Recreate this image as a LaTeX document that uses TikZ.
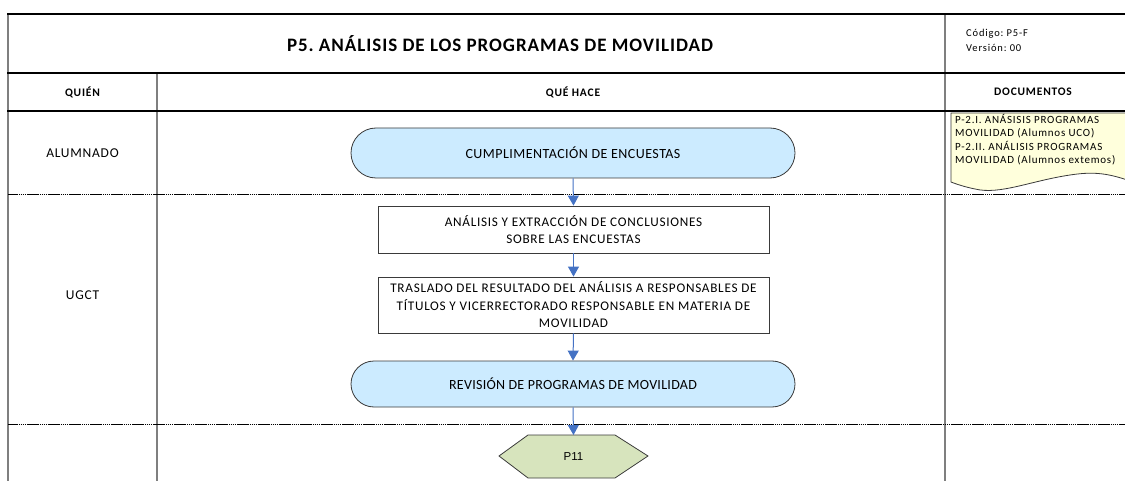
\documentclass[tikz,border=0pt]{standalone}
\usepackage{fontspec}
\setmainfont{Carlito}
\newfontfamily\arialf{Liberation Sans}
\usetikzlibrary{arrows.meta,shapes.geometric,shapes.misc}
\newcommand{\ls}[1]{\addfontfeatures{LetterSpace=#1}}
\frenchspacing
\definecolor{termfill}{HTML}{CCEBFF}
\definecolor{hexfill}{HTML}{D7E4BD}
\definecolor{docfill}{HTML}{FFFFDC}
\definecolor{arrowc}{HTML}{4472C4}
\definecolor{edgec}{HTML}{3A3A3A}
\definecolor{gridc}{HTML}{7F7F7F}
\tikzset{
  thickrule/.style={line width=2.6pt, black},
  dashrule/.style={line width=0.9pt, black, dash pattern=on 1.6pt off 0.5pt},
  vrule/.style={line width=1.1pt, gridc},
  term/.style={rounded rectangle, draw=edgec, line width=0.8pt, fill=termfill, minimum width=444pt, minimum height=50pt, inner sep=0pt},
  procbox/.style={rectangle, draw=edgec, line width=0.8pt, fill=white, minimum width=391pt, align=center, inner sep=0pt, font=\fontsize{13.2}{17.5}\selectfont\ls{5.5}},
  flowarrow/.style={draw=arrowc, line width=1pt, -{Triangle[width=11pt,length=10pt]}},
  lane/.style={font=\fontsize{13.5}{16}\selectfont\ls{5.5}},
  hdr/.style={font=\bfseries\fontsize{11.5}{14}\selectfont\ls{7}},
}
\begin{document}
\begin{tikzpicture}[x=1pt,y=-1pt]
\useasboundingbox (0,0) rectangle (1125,481);
\clip (0,0) rectangle (1125,481);
% grid
\draw[vrule] (8,14) -- (8,481);
\draw[vrule] (157,73) -- (157,481);
\draw[vrule] (945,14) -- (945,481);
\draw[thickrule] (7,14) -- (1130,14);
\draw[thickrule] (7,73) -- (1130,73);
\draw[thickrule] (7,111) -- (1130,111);
\draw[dashrule] (8,194) -- (1130,194);
\draw[dashrule] (8,424) -- (1130,424);
% title
\node[font=\bfseries\fontsize{19}{22}\selectfont\ls{5}] (title) at (500,44) {P5. ANÁLISIS DE LOS PROGRAMAS DE MOVILIDAD};
\node[anchor=north west, align=left, inner sep=0pt, font=\fontsize{10.5}{15}\selectfont\ls{8}] (code) at (966,29) {Código: P5-F\\Versión: 00};
% headers
\node[hdr] (h1) at (82.5,92) {QUIÉN};
\node[hdr] (h2) at (573,92) {QUÉ HACE};
\node[hdr] (h3) at (1033,92) {DOCUMENTOS};
% lanes
\node[lane] (l1) at (82.5,153) {ALUMNADO};
\node[lane] (l2) at (82.5,295) {UGCT};
% flow
\node[term, font=\fontsize{14}{17}\selectfont\ls{3.3}] (t1) at (573,153) {CUMPLIMENTACIÓN DE ENCUESTAS};
\node[procbox, minimum height=47pt] (b2) at (573.5,229.5) {ANÁLISIS Y EXTRACCIÓN DE CONCLUSIONES\\SOBRE LAS ENCUESTAS};
\node[procbox, minimum height=56pt] (b3) at (573.5,305) {TRASLADO DEL RESULTADO DEL ANÁLISIS A RESPONSABLES DE\\TÍTULOS Y VICERRECTORADO RESPONSABLE EN MATERIA DE\\MOVILIDAD};
\node[term, minimum height=46pt, font=\fontsize{14}{17}\selectfont\ls{2}] (t2) at (573,384) {REVISIÓN DE PROGRAMAS DE MOVILIDAD};
\draw[edgec, line width=0.8pt, fill=hexfill] (499,456) -- (528,435) -- (615,435) -- (648,456) -- (615,478) -- (528,478) -- cycle;
\coordinate (hx) at (573.5,435);
\node[font=\arialf\fontsize{11.5}{14}\selectfont] (p11) at (573.5,457) {P11};
\draw[flowarrow] (t1.south) -- (b2.north);
\draw[flowarrow] (b2.south) -- (b3.north);
\draw[flowarrow] (b3.south) -- (t2.north);
\draw[flowarrow] (t2.south) -- (hx);
% document
\draw[edgec, line width=0.8pt, fill=docfill] (951,113) -- (1130,113) -- (1130,181) .. controls (1105,172) and (1090,172) .. (1070,175) .. controls (1030,181) and (1000,195) .. (975,189) .. controls (965,187) and (956,184) .. (951,182) -- cycle;
\node[anchor=north west, align=left, inner sep=0pt, font=\fontsize{11}{13.5}\selectfont\ls{7}] (doc) at (955,114) {P-2.I. ANÁSISIS PROGRAMAS\\MOVILIDAD (Alumnos UCO)\\P-2.II. ANÁLISIS PROGRAMAS\\MOVILIDAD (Alumnos extemos)};
\end{tikzpicture}
\end{document}
